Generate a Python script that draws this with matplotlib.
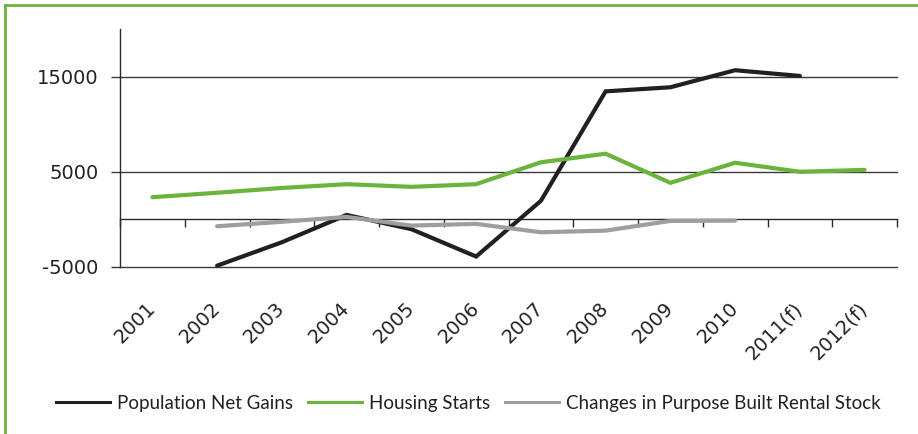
import matplotlib
matplotlib.use("Agg")
import matplotlib.pyplot as plt
from matplotlib.lines import Line2D
import numpy as np

plt.rcParams["font.family"] = ["DejaVu Sans"]

categories = ["2001", "2002", "2003", "2004", "2005", "2006", "2007", "2008",
              "2009", "2010", "2011(f)", "2012(f)"]
population_net_gains = [np.nan, -4860, -2400, 470, -1030, -3900, 1950, 13450,
                        13880, 15670, 15070, np.nan]
housing_starts = [2330, 2800, 3300, 3700, 3420, 3700, 6000, 6900,
                  3840, 5950, 5000, 5200]
rental_stock_changes = [np.nan, -720, -250, 260, -650, -470, -1350, -1180,
                        -160, -130, np.nan, np.nan]
series_names = ["Population Net Gains", "Housing Starts",
                "Changes in Purpose Built Rental Stock"]
y_ticks = [-5000, 5000, 15000]

BLACK = "#231f20"
GREEN = "#6ab43e"
GRAY = "#9d9ea1"
TICKSIZE = 14

fig = plt.figure(figsize=(9.18, 4.34), dpi=100)
ax = fig.add_axes([120 / 918, 1 - 267 / 434, 777 / 918, 238 / 434])

x = np.arange(len(categories))
for vals, col, name in zip([population_net_gains, housing_starts, rental_stock_changes],
                           [BLACK, GREEN, GRAY], series_names):
    ax.plot(x, vals, color=col, lw=3.0, solid_capstyle="round",
            solid_joinstyle="miter", label=name, zorder=3)

ax.set_xlim(-0.5, len(categories) - 0.5)
ax.set_ylim(-5000, 20000)

# gridlines
ax.set_yticks(y_ticks)
ax.set_yticklabels([str(v) for v in y_ticks])
ax.yaxis.grid(True, color="#3a3a3a", lw=1.0)
for gl in ax.get_ygridlines():
    gl.set_clip_on(False)
ax.tick_params(axis="y", direction="out", length=6.5, width=1.0, color="#3a3a3a", pad=9,
               labelsize=TICKSIZE, labelcolor="#222222")

# x axis on the zero line
for s in ["top", "right"]:
    ax.spines[s].set_visible(False)
ax.spines["left"].set_color("#2a2a2a")
ax.spines["left"].set_linewidth(1.0)
ax.spines["bottom"].set_position(("data", 0))
ax.spines["bottom"].set_color("#2a2a2a")
ax.spines["bottom"].set_linewidth(1.0)

ax.set_xticks(x)
ax.set_xticks(np.arange(-0.5, len(categories), 1.0), minor=True)
ax.tick_params(axis="x", which="major", length=0, pad=62, labelsize=TICKSIZE,
               labelcolor="#222222")
ax.tick_params(axis="x", which="minor", direction="out", length=6, width=1.0, color="#2a2a2a")
ax.set_xticklabels(categories, rotation=45, ha="right", va="center",
                   rotation_mode="anchor")
ax.set_axisbelow(True)

# legend
handles = [Line2D([], [], color=c, lw=2.2) for c in [BLACK, GREEN, GRAY]]
fig.legend(handles, series_names, loc="center", bbox_to_anchor=(468 / 918, 1 - 403 / 434),
           ncol=3, frameon=False, prop={"family": "Lato", "size": 13.5},
           handlelength=2.9, handletextpad=0.35, columnspacing=0.8, labelcolor="#231f20")

# green frame
fig.add_artist(Line2D([5 / 918, 1.0], [1 - 5 / 434, 1 - 5 / 434], transform=fig.transFigure,
                      color=GREEN, lw=2.0))
fig.add_artist(Line2D([5 / 918, 5 / 918], [0, 1 - 5 / 434], transform=fig.transFigure,
                      color=GREEN, lw=2.0))

fig.savefig("out.png", dpi=100)
